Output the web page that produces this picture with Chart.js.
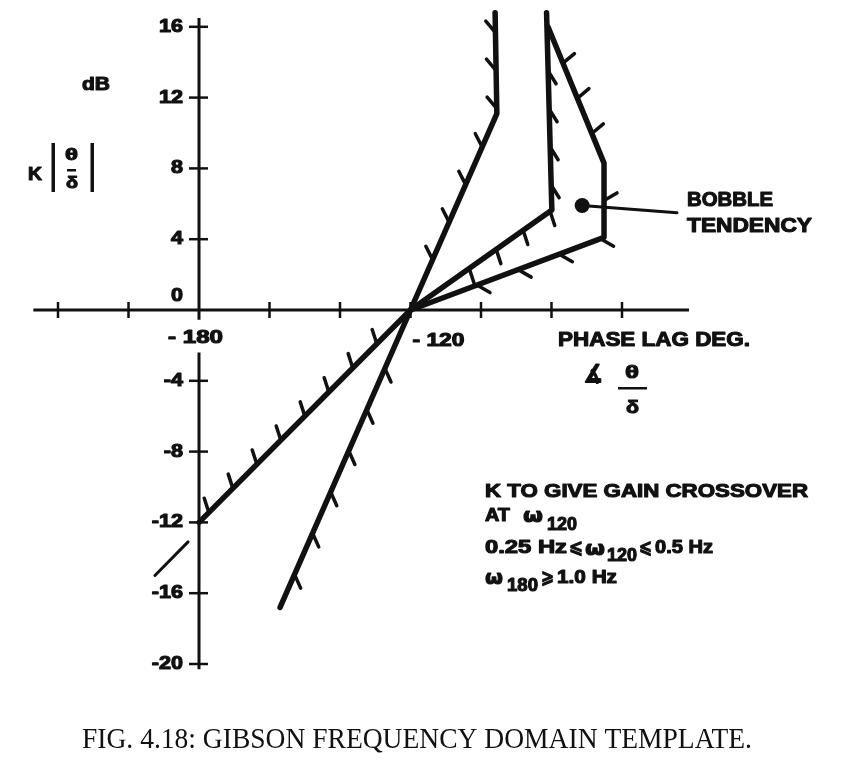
<!DOCTYPE html>
<html>
<head>
<meta charset="utf-8">
<script src="https://cdn.jsdelivr.net/npm/chart.js@4.4.1/dist/chart.umd.min.js"></script>
<style>
html,body{margin:0;padding:0;background:#fff;}
#wrap{width:846px;height:771px;position:relative;}
</style>
</head>
<body>
<div id="wrap"><canvas id="c" width="846" height="771"></canvas></div>
<script>
// ---------- data (phase lag in degrees, gain in dB) ----------
const lineAPhase = [-157.0, -120.0, -95.5, -96.0];
const lineAGain  = [-16.8, 0.0, 11.1, 16.8];
const lineBPhase = [-180.0, -120.0, -79.9, -81.4];
const lineBGain  = [-12.0, 0.0, 5.65, 16.8];
const lineCPhase = [-120.0, -65.1, -65.1, -81.0];
const lineCGain  = [0.0, 4.1, 8.3, 16.0];
const strayPhase = [-192.5, -183.1];
const strayGain  = [-15.0, -13.1];
const bobblePhase = [-71.3];
const bobbleGain  = [5.9];
const leaderPhase = [-71.3, -44.4];
const leaderGain  = [5.9, 5.5];

const xTickValues = [-220, -200, -180, -160, -140, -120, -100, -80, -60];
const xLabelValues = [-180, -120];
const xLabelTexts  = ['- 180', '- 120'];
const yTickValues = [16, 12, 8, 4, 0, -4, -8, -12, -16, -20];
const yTickLabels = ['16', '12', '8', '4', '0', '-4', '-8', '-12', '-16', '-20'];

const xAxisRange = [-227, -41];
const yAxisRange = [-20.3, 16.5];
const yAxisGap = [-2.4, -0.55];
const yAxisAt = -180;

function pts(xs, ys){ return xs.map((x,i)=>({x:x, y:ys[i]})); }

// ---------- helpers ----------
function fitText(ctx, txt, x, y, size, width, opts){
  opts = opts || {};
  ctx.save();
  const fam = opts.family || '"Liberation Sans", Arial, sans-serif';
  ctx.font = (opts.weight || 'bold') + ' ' + size + 'px ' + fam;
  ctx.fillStyle = '#111';
  ctx.strokeStyle = '#111';
  ctx.textBaseline = 'middle';
  ctx.textAlign = 'left';
  const w = ctx.measureText(txt).width;
  const s = width ? width / w : (opts.scale || 1);
  const align = opts.align || 'left';
  const left = align === 'right' ? x - w*s : (align === 'center' ? x - w*s/2 : x);
  ctx.translate(left, y);
  ctx.scale(s, 1);
  ctx.fillText(txt, 0, 0);
  const sw = (opts.stroke === undefined) ? 1.1 : opts.stroke;
  if (sw > 0){ ctx.lineWidth = sw; ctx.lineJoin = 'round'; ctx.strokeText(txt, 0, 0); }
  ctx.restore();
}

const axesPlugin = {
  id: 'axesPlugin',
  beforeDraw(chart){
    const ctx = chart.ctx;
    ctx.save();
    ctx.fillStyle = '#fff';
    ctx.fillRect(0, 0, chart.width, chart.height);
    ctx.restore();
  },
  beforeDatasetsDraw(chart){
    const ctx = chart.ctx, xs = chart.scales.x, ys = chart.scales.y;
    ctx.save();
    ctx.strokeStyle = '#111';
    ctx.lineCap = 'butt';
    // x axis
    const y0 = ys.getPixelForValue(0);
    ctx.lineWidth = 3;
    ctx.beginPath();
    ctx.moveTo(xs.getPixelForValue(xAxisRange[0]), y0);
    ctx.lineTo(xs.getPixelForValue(xAxisRange[1]), y0);
    ctx.stroke();
    // x ticks
    ctx.lineWidth = 2.5;
    xTickValues.forEach(v => {
      if (v === yAxisAt) return;
      const px = xs.getPixelForValue(v);
      ctx.beginPath(); ctx.moveTo(px, y0 - 8); ctx.lineTo(px, y0 + 8); ctx.stroke();
    });
    // y axis (broken where the -180 label sits)
    const yx = xs.getPixelForValue(yAxisAt);
    ctx.lineWidth = 3;
    ctx.beginPath();
    ctx.moveTo(yx, ys.getPixelForValue(yAxisRange[1]));
    ctx.lineTo(yx, ys.getPixelForValue(yAxisGap[1]));
    ctx.moveTo(yx, ys.getPixelForValue(yAxisGap[0]));
    ctx.lineTo(yx, ys.getPixelForValue(yAxisRange[0]));
    ctx.stroke();
    // y ticks
    ctx.lineWidth = 2.5;
    yTickValues.forEach(v => {
      if (v === 0) return;
      const py = ys.getPixelForValue(v);
      ctx.beginPath(); ctx.moveTo(yx - 10, py); ctx.lineTo(yx + 9, py); ctx.stroke();
    });
    ctx.restore();
    // y tick labels
    yTickValues.forEach((v, i) => {
      let py = ys.getPixelForValue(v);
      if (v === 0) py -= 14;
      fitText(ctx, yTickLabels[i], yx - 16, py, 18, null, {align:'right', scale:1.2});
    });
    // x labels
    xLabelValues.forEach((v, i) => {
      const px = xs.getPixelForValue(v);
      if (i === 0) fitText(ctx, xLabelTexts[i], px - 31, y0 + 28, 18, 55);
      else fitText(ctx, xLabelTexts[i], px + 2, y0 + 31, 18, 52);
    });
  },
  afterDatasetsDraw(chart){
    const ctx = chart.ctx;
    ctx.save();
    ctx.strokeStyle = '#111';
    ctx.lineWidth = 3.5;
    ctx.lineCap = 'round';
    chart.data.datasets.forEach((ds, di) => {
      if (!ds.hatch) return;
      const meta = chart.getDatasetMeta(di);
      ds.hatch.forEach((h, si) => {
        const p0 = meta.data[si], p1 = meta.data[si+1];
        const dx = p1.x - p0.x, dy = p1.y - p0.y;
        const L = Math.hypot(dx, dy);
        const ux = dx / L, uy = dy / L;
        const a = h.angle * Math.PI / 180;
        const hx = Math.cos(a) * 15, hy = Math.sin(a) * 15;
        for (let k = 0; k < h.count; k++){
          const t = h.start + k * h.spacing;
          const bx = p0.x + ux * t, by = p0.y + uy * t;
          ctx.beginPath(); ctx.moveTo(bx, by); ctx.lineTo(bx + hx, by + hy); ctx.stroke();
        }
      });
    });
    ctx.restore();

    // annotation texts
    fitText(ctx, 'dB', 82, 85, 18, 28);
    fitText(ctx, 'K', 28, 175, 18, 14);
    fitText(ctx, 'θ', 65, 155, 17, 13);
    fitText(ctx, 'δ', 66, 183, 17, 12);
    ctx.save();
    ctx.fillStyle = '#111';
    ctx.fillRect(67, 169, 9, 2.5);
    ctx.fillRect(51.5, 143, 3.5, 49);
    ctx.fillRect(90.5, 143, 3.5, 49);
    ctx.restore();

    fitText(ctx, 'PHASE LAG DEG.', 558, 340, 20, 192);
    fitText(ctx, '∡', 584, 376, 24, 18, {family:'"DejaVu Sans", sans-serif', stroke:2});
    fitText(ctx, 'θ', 625, 373, 18, 14);
    ctx.save(); ctx.fillStyle = '#111'; ctx.fillRect(618, 387, 29, 2.5); ctx.restore();
    fitText(ctx, 'δ', 626, 408, 18, 13);

    fitText(ctx, 'BOBBLE', 687, 200, 20, 86);
    fitText(ctx, 'TENDENCY', 687, 226, 20, 125);

    fitText(ctx, 'K TO GIVE GAIN CROSSOVER', 485, 492, 18.5, 323);
    fitText(ctx, 'AT', 485, 516, 18.5, 25);
    fitText(ctx, 'ω', 523, 517, 20, 20, {family:'"DejaVu Sans", sans-serif'});
    fitText(ctx, '120', 547, 525, 18, 30);
    fitText(ctx, '0.25 Hz', 485, 548, 18.5, 82);
    fitText(ctx, '⩽', 569, 548, 18, 14, {family:'"DejaVu Sans", sans-serif'});
    fitText(ctx, 'ω', 585, 550, 20, 20, {family:'"DejaVu Sans", sans-serif'});
    fitText(ctx, '120', 607, 556, 18, 30);
    fitText(ctx, '⩽', 639, 548, 18, 13, {family:'"DejaVu Sans", sans-serif'});
    fitText(ctx, '0.5 Hz', 655, 548, 18.5, 58);
    fitText(ctx, 'ω', 485, 579, 20, 18, {family:'"DejaVu Sans", sans-serif'});
    fitText(ctx, '180', 507, 586, 18, 31);
    fitText(ctx, '⩾', 541, 578, 18, 13, {family:'"DejaVu Sans", sans-serif'});
    fitText(ctx, '1.0 Hz', 557, 578, 18.5, 60);

    fitText(ctx, 'FIG. 4.18: GIBSON FREQUENCY DOMAIN TEMPLATE.', 82, 740, 30, 670,
      {family:'"Liberation Serif", "Times New Roman", serif', weight:'normal', stroke:0});
  }
};

// scale mapping: -180 deg at x=199 px, 3.525 px/deg; 0 dB at y=310 px, 17.7 px/dB
const xMin = -180 - 199/3.525, xMax = -180 + (846-199)/3.525;
const yMax = 310/17.7, yMin = -(771-310)/17.7;

const lineStyle = {showLine:true, borderColor:'#111', borderWidth:5.5, pointRadius:0, fill:false, tension:0,
  borderCapStyle:'round', borderJoinStyle:'round'};

new Chart(document.getElementById('c'), {
  type: 'scatter',
  data: {
    datasets: [
      Object.assign({label:'A', data: pts(lineAPhase, lineAGain),
        hatch:[{angle:66,start:36,spacing:45,count:6},{angle:-117,start:55,spacing:41,count:4},{angle:-130,start:5,spacing:38,count:3}]}, lineStyle),
      Object.assign({label:'B', data: pts(lineBPhase, lineBGain),
        hatch:[{angle:-108,start:14,spacing:34,count:8},{angle:72,start:72,spacing:33,count:4},{angle:58,start:25,spacing:38,count:4}]}, lineStyle),
      Object.assign({label:'C', data: pts(lineCPhase, lineCGain),
        hatch:[{angle:30,start:71,spacing:44,count:4},{angle:-30,start:37,spacing:40,count:1},{angle:-40,start:32,spacing:38,count:3}]}, lineStyle),
      Object.assign({label:'stray', data: pts(strayPhase, strayGain)}, lineStyle, {borderWidth:3}),
      Object.assign({label:'leader', data: pts(leaderPhase, leaderGain)}, lineStyle, {borderWidth:3}),
      {label:'bobble', data: pts(bobblePhase, bobbleGain), pointRadius:7.5, pointBackgroundColor:'#111', pointBorderWidth:0, showLine:false}
    ]
  },
  options: {
    responsive:false, animation:false, devicePixelRatio:1,
    layout:{padding:0, autoPadding:false},
    plugins:{legend:{display:false}, tooltip:{enabled:false}},
    scales:{
      x:{type:'linear', min:xMin, max:xMax, display:false},
      y:{type:'linear', min:yMin, max:yMax, display:false}
    }
  },
  plugins:[axesPlugin]
});
</script>
</body>
</html>
